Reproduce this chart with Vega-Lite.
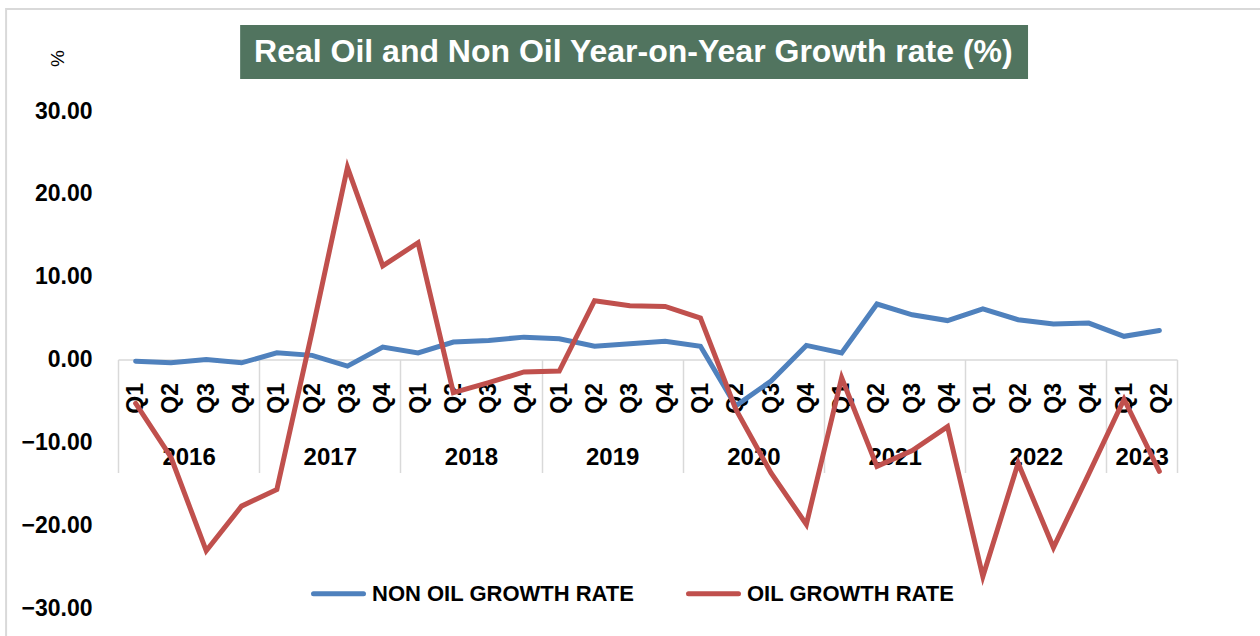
{
  "$schema": "https://vega.github.io/schema/vega-lite/v6.json",
  "autosize": {"type": "none"},
  "width": 1059,
  "height": 497,
  "padding": {"left": 118, "top": 111, "right": 83, "bottom": 28},
  "background": "white",
  "config": {
    "view": {"stroke": null},
    "font": "Liberation Sans",
    "axis": {"labelFont": "Liberation Sans", "titleFont": "Liberation Sans", "labelColor": "#000000", "titleColor": "#000000", "grid": false}
  },
  "datasets": {
    "growth": [
      {"idx": 0, "period": "2016 Q1", "series": "NON OIL GROWTH RATE", "value": -0.2},
      {"idx": 1, "period": "2016 Q2", "series": "NON OIL GROWTH RATE", "value": -0.4},
      {"idx": 2, "period": "2016 Q3", "series": "NON OIL GROWTH RATE", "value": 0.0},
      {"idx": 3, "period": "2016 Q4", "series": "NON OIL GROWTH RATE", "value": -0.4},
      {"idx": 4, "period": "2017 Q1", "series": "NON OIL GROWTH RATE", "value": 0.8},
      {"idx": 5, "period": "2017 Q2", "series": "NON OIL GROWTH RATE", "value": 0.5},
      {"idx": 6, "period": "2017 Q3", "series": "NON OIL GROWTH RATE", "value": -0.8},
      {"idx": 7, "period": "2017 Q4", "series": "NON OIL GROWTH RATE", "value": 1.5},
      {"idx": 8, "period": "2018 Q1", "series": "NON OIL GROWTH RATE", "value": 0.8},
      {"idx": 9, "period": "2018 Q2", "series": "NON OIL GROWTH RATE", "value": 2.1},
      {"idx": 10, "period": "2018 Q3", "series": "NON OIL GROWTH RATE", "value": 2.3},
      {"idx": 11, "period": "2018 Q4", "series": "NON OIL GROWTH RATE", "value": 2.7},
      {"idx": 12, "period": "2019 Q1", "series": "NON OIL GROWTH RATE", "value": 2.5},
      {"idx": 13, "period": "2019 Q2", "series": "NON OIL GROWTH RATE", "value": 1.6},
      {"idx": 14, "period": "2019 Q3", "series": "NON OIL GROWTH RATE", "value": 1.9},
      {"idx": 15, "period": "2019 Q4", "series": "NON OIL GROWTH RATE", "value": 2.2},
      {"idx": 16, "period": "2020 Q1", "series": "NON OIL GROWTH RATE", "value": 1.6},
      {"idx": 17, "period": "2020 Q2", "series": "NON OIL GROWTH RATE", "value": -5.6},
      {"idx": 18, "period": "2020 Q3", "series": "NON OIL GROWTH RATE", "value": -2.6},
      {"idx": 19, "period": "2020 Q4", "series": "NON OIL GROWTH RATE", "value": 1.7},
      {"idx": 20, "period": "2021 Q1", "series": "NON OIL GROWTH RATE", "value": 0.8},
      {"idx": 21, "period": "2021 Q2", "series": "NON OIL GROWTH RATE", "value": 6.7},
      {"idx": 22, "period": "2021 Q3", "series": "NON OIL GROWTH RATE", "value": 5.4},
      {"idx": 23, "period": "2021 Q4", "series": "NON OIL GROWTH RATE", "value": 4.7},
      {"idx": 24, "period": "2022 Q1", "series": "NON OIL GROWTH RATE", "value": 6.1},
      {"idx": 25, "period": "2022 Q2", "series": "NON OIL GROWTH RATE", "value": 4.8},
      {"idx": 26, "period": "2022 Q3", "series": "NON OIL GROWTH RATE", "value": 4.3},
      {"idx": 27, "period": "2022 Q4", "series": "NON OIL GROWTH RATE", "value": 4.4},
      {"idx": 28, "period": "2023 Q1", "series": "NON OIL GROWTH RATE", "value": 2.8},
      {"idx": 29, "period": "2023 Q2", "series": "NON OIL GROWTH RATE", "value": 3.5},
      {"idx": 0, "period": "2016 Q1", "series": "OIL GROWTH RATE", "value": -5.3},
      {"idx": 1, "period": "2016 Q2", "series": "OIL GROWTH RATE", "value": -11.8},
      {"idx": 2, "period": "2016 Q3", "series": "OIL GROWTH RATE", "value": -23.1},
      {"idx": 3, "period": "2016 Q4", "series": "OIL GROWTH RATE", "value": -17.7},
      {"idx": 4, "period": "2017 Q1", "series": "OIL GROWTH RATE", "value": -15.7},
      {"idx": 5, "period": "2017 Q2", "series": "OIL GROWTH RATE", "value": 3.4},
      {"idx": 6, "period": "2017 Q3", "series": "OIL GROWTH RATE", "value": 23.2},
      {"idx": 7, "period": "2017 Q4", "series": "OIL GROWTH RATE", "value": 11.3},
      {"idx": 8, "period": "2018 Q1", "series": "OIL GROWTH RATE", "value": 14.1},
      {"idx": 9, "period": "2018 Q2", "series": "OIL GROWTH RATE", "value": -4.0},
      {"idx": 10, "period": "2018 Q3", "series": "OIL GROWTH RATE", "value": -2.8},
      {"idx": 11, "period": "2018 Q4", "series": "OIL GROWTH RATE", "value": -1.5},
      {"idx": 12, "period": "2019 Q1", "series": "OIL GROWTH RATE", "value": -1.4},
      {"idx": 13, "period": "2019 Q2", "series": "OIL GROWTH RATE", "value": 7.1},
      {"idx": 14, "period": "2019 Q3", "series": "OIL GROWTH RATE", "value": 6.5},
      {"idx": 15, "period": "2019 Q4", "series": "OIL GROWTH RATE", "value": 6.4},
      {"idx": 16, "period": "2020 Q1", "series": "OIL GROWTH RATE", "value": 5.0},
      {"idx": 17, "period": "2020 Q2", "series": "OIL GROWTH RATE", "value": -6.0},
      {"idx": 18, "period": "2020 Q3", "series": "OIL GROWTH RATE", "value": -13.7},
      {"idx": 19, "period": "2020 Q4", "series": "OIL GROWTH RATE", "value": -19.9},
      {"idx": 20, "period": "2021 Q1", "series": "OIL GROWTH RATE", "value": -2.2},
      {"idx": 21, "period": "2021 Q2", "series": "OIL GROWTH RATE", "value": -12.9},
      {"idx": 22, "period": "2021 Q3", "series": "OIL GROWTH RATE", "value": -11.0},
      {"idx": 23, "period": "2021 Q4", "series": "OIL GROWTH RATE", "value": -8.1},
      {"idx": 24, "period": "2022 Q1", "series": "OIL GROWTH RATE", "value": -26.2},
      {"idx": 25, "period": "2022 Q2", "series": "OIL GROWTH RATE", "value": -12.5},
      {"idx": 26, "period": "2022 Q3", "series": "OIL GROWTH RATE", "value": -22.7},
      {"idx": 27, "period": "2022 Q4", "series": "OIL GROWTH RATE", "value": -13.8},
      {"idx": 28, "period": "2023 Q1", "series": "OIL GROWTH RATE", "value": -4.8},
      {"idx": 29, "period": "2023 Q2", "series": "OIL GROWTH RATE", "value": -13.5}
    ]
  },
  "layer": [
    {
      "data": {"values": [{}]},
      "mark": {"type": "rect", "color": "#51745F"},
      "encoding": {
        "x": {"datum": 2.96, "type": "quantitative", "scale": {"domain": [-0.5, 29.5], "nice": false, "zero": false},
          "axis": {"orient": "bottom", "offset": -248.5, "values": [1.5, 5.5, 9.5, 13.5, 17.5, 21.5, 25.5, 28.5],
            "labelExpr": "'' + (2016 + floor(datum.value / 4))", "domain": false, "ticks": false, "tickSize": 0,
            "labelPadding": 86, "labelFontSize": 24, "labelFontWeight": "bold", "labelAngle": 0, "labelBaseline": "top", "labelAlign": "center", "title": null}},
        "x2": {"datum": 25.28},
        "y": {"datum": 40.39, "type": "quantitative"},
        "y2": {"datum": 33.86}
      }
    },
    {
      "data": {"values": [{}]},
      "mark": {"type": "text", "text": "Real Oil and Non Oil Year-on-Year Growth rate (%)", "color": "white", "font": "Liberation Sans", "fontSize": 32, "fontWeight": "bold", "align": "center", "baseline": "middle"},
      "encoding": {
        "x": {"datum": 14.1, "type": "quantitative",
          "axis": {"orient": "bottom", "offset": -248.5, "values": [-0.5, 3.5, 7.5, 11.5, 15.5, 19.5, 23.5, 27.5, 29.5],
            "labels": false, "domain": false, "ticks": true, "tickSize": 113, "tickColor": "#d9d9d9", "tickWidth": 1.5, "title": null}},
        "y": {"datum": 37.1, "type": "quantitative"}
      }
    },
    {
      "data": {"values": [{}]},
      "mark": {"type": "rect", "fill": null, "fillOpacity": 0, "stroke": "#d9d9d9", "strokeWidth": 2},
      "encoding": {
        "x": {"datum": -3.67, "type": "quantitative", "axis": null},
        "x2": {"datum": 40},
        "y": {"datum": 42.3, "type": "quantitative"},
        "y2": {"datum": -45}
      }
    },
    {
      "data": {"name": "growth"},
      "mark": {"type": "line", "strokeWidth": 5, "strokeJoin": "miter", "strokeCap": "round"},
      "encoding": {
        "x": {"field": "idx", "type": "quantitative",
          "axis": {"orient": "bottom", "offset": -248.5, "values": [0,1,2,3,4,5,6,7,8,9,10,11,12,13,14,15,16,17,18,19,20,21,22,23,24,25,26,27,28,29],
            "labelExpr": "'Q' + (datum.value % 4 + 1)", "domain": true, "domainColor": "#d9d9d9", "domainWidth": 1.5,
            "ticks": false, "tickSize": 0, "labelAngle": -90, "labelPadding": 23, "labelFontSize": 23, "labelFontWeight": "bold", "title": null}},
        "y": {"field": "value", "type": "quantitative", "scale": {"domain": [-30, 30], "nice": false},
          "axis": {"values": [-30, -20, -10, 0, 10, 20, 30], "format": ".2f", "domain": false, "ticks": false, "tickSize": 0,
            "labelPadding": 26, "labelFontSize": 23, "labelFontWeight": "bold",
            "title": "%", "titleFontSize": 19, "titleFontWeight": "normal", "titleX": -61, "titleY": -53, "titleAngle": -90, "titleAlign": "center", "titleBaseline": "middle"}},
        "color": {"field": "series", "type": "nominal",
          "scale": {"domain": ["NON OIL GROWTH RATE", "OIL GROWTH RATE"], "range": ["#4F81BD", "#C0504D"]},
          "legend": {"orient": "none", "legendX": 193, "legendY": 455, "direction": "horizontal", "title": null,
            "symbolType": "stroke", "symbolSize": 2500, "symbolStrokeWidth": 5, "labelFont": "Liberation Sans", "labelFontSize": 22, "labelFontWeight": "bold",
            "labelColor": "#000000", "labelOffset": 6, "columnPadding": 43, "labelLimit": 400, "padding": 0,
            "encode": {"symbols": {"update": {"strokeCap": {"value": "round"}}}}}}
      }
    }
  ],
  "resolve": {"axis": {"x": "independent"}}
}
